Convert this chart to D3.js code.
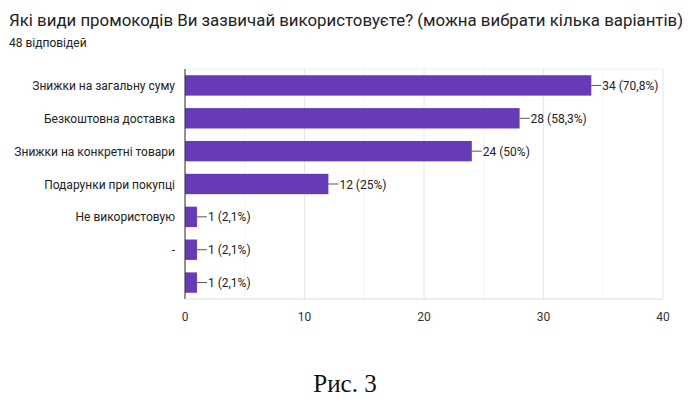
<!DOCTYPE html><html><head><meta charset="utf-8"><script src="https://cdn.jsdelivr.net/npm/d3@7"></script>
<style>body{margin:0;background:#fff}text{font-family:Roboto,Arial,sans-serif}</style></head><body>
<svg id="c" width="690" height="403"></svg>
<script>
const categories=["Знижки на загальну суму","Безкоштовна доставка","Знижки на конкретні товари","Подарунки при покупці","Не використовую","-",""];
const values=[34,28,24,12,1,1,1];
const labels=["34 (70,8%)","28 (58,3%)","24 (50%)","12 (25%)","1 (2,1%)","1 (2,1%)","1 (2,1%)"];
const ticks=[0,10,20,30,40];
const svg=d3.select("#c");
const x=d3.scaleLinear().domain([0,40]).range([185,663]);
const y=d3.scaleBand().domain(d3.range(categories.length)).range([69,299]).paddingInner(0.38).paddingOuter(0.19);
svg.append("text").attr("x",9).attr("y",26).attr("font-size",16.5).attr("textLength",674).attr("lengthAdjust","spacingAndGlyphs").attr("fill","#222").text("Які види промокодів Ви зазвичай використовуєте? (можна вибрати кілька варіантів)");
svg.append("text").attr("x",9).attr("y",47).attr("font-size",12).attr("fill","#222").text("48 відповідей");
svg.selectAll(".g").data(d3.range(0,45,5)).join("line").attr("x1",d=>x(d)).attr("x2",d=>x(d)).attr("y1",69).attr("y2",299).attr("stroke",d=>d%10?"#f3f3f3":"#e6e6e6");
svg.append("line").attr("x1",185).attr("x2",663).attr("y1",69).attr("y2",69).attr("stroke","#eee");
svg.selectAll(".b").data(values).join("rect").attr("x",x(0)).attr("y",(d,i)=>y(i)).attr("width",d=>x(d)-x(0)).attr("height",y.bandwidth()).attr("fill","#673ab7");
svg.selectAll(".l").data(values).join("line").attr("x1",d=>x(d)).attr("x2",d=>x(d)+10).attr("y1",(d,i)=>y(i)+y.bandwidth()/2).attr("y2",(d,i)=>y(i)+y.bandwidth()/2).attr("stroke","#555");
svg.selectAll(".t").data(values).join("text").attr("x",d=>x(d)+11).attr("y",(d,i)=>y(i)+y.bandwidth()/2+4.5).attr("font-size",12).attr("fill","#222").text((d,i)=>labels[i]);
svg.selectAll(".c").data(categories).join("text").attr("x",175).attr("y",(d,i)=>y(i)+y.bandwidth()/2+4.5).attr("text-anchor","end").attr("font-size",12).attr("fill","#222").text(d=>d);
svg.append("line").attr("x1",185).attr("x2",185).attr("y1",69).attr("y2",299).attr("stroke","#333");
svg.append("line").attr("x1",185).attr("x2",663).attr("y1",299).attr("y2",299).attr("stroke","#ddd");
svg.selectAll(".x").data(ticks).join("text").attr("x",d=>x(d)).attr("y",321).attr("text-anchor","middle").attr("font-size",12).attr("fill","#333").text(d=>d);
svg.append("text").attr("x",345).attr("y",392).attr("text-anchor","middle").style("font-family","'Liberation Serif','DejaVu Serif',serif").attr("font-size",25).attr("fill","#111").text("Рис. 3");
</script></body></html>
